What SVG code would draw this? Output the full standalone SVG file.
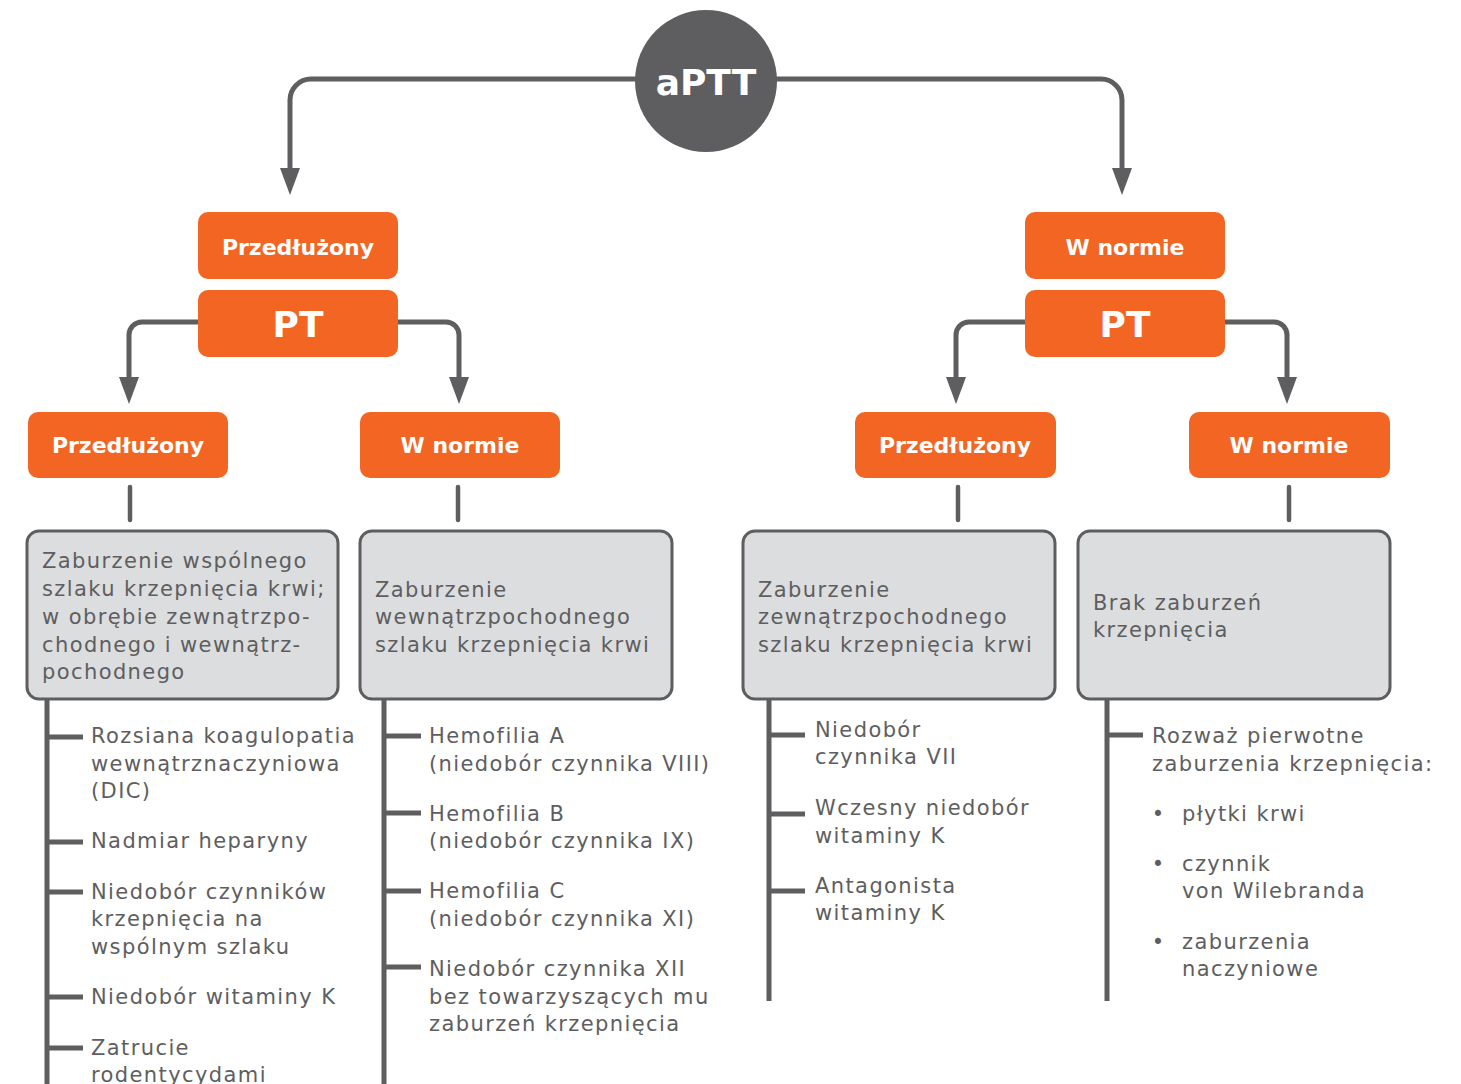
<svg xmlns="http://www.w3.org/2000/svg" width="1461" height="1084" viewBox="0 0 1461 1084">
<defs>
<marker id="arr" viewBox="0 0 27 20" refX="0" refY="10" markerWidth="27" markerHeight="20" markerUnits="userSpaceOnUse" orient="auto">
<path d="M0,0 L27,10 L0,20 z" fill="#5e5e60"/>
</marker>
<style>
.conn{fill:none;stroke:#5e5e60;stroke-width:5}
.stub{fill:none;stroke:#5e5e60;stroke-width:4.5;stroke-linecap:round}
.ob{fill:#f26522}
.ot{font-family:"DejaVu Sans",sans-serif;font-weight:bold;fill:#ffffff;text-anchor:middle;font-size:22px}
.big{font-size:36px}
.gb{fill:#dcdddf;stroke:#5e5e60;stroke-width:3}
.tx{font-family:"DejaVu Sans",sans-serif;font-size:21px;letter-spacing:1.4px;fill:#5e5e60}
</style>
</defs>
<rect width="1461" height="1084" fill="#ffffff"/>

<g id="connectors">
<path class="conn" d="M636 79 H311 A21 21 0 0 0 290 100 V168" marker-end="url(#arr)"/>
<path class="conn" d="M776 79 H1101 A21 21 0 0 1 1122 100 V168" marker-end="url(#arr)"/>
<path class="conn" d="M198 322 H142 A13 13 0 0 0 129 335 V377" marker-end="url(#arr)"/>
<path class="conn" d="M397 322 H446 A13 13 0 0 1 459 335 V377" marker-end="url(#arr)"/>
<path class="conn" d="M1025 322 H969 A13 13 0 0 0 956 335 V377" marker-end="url(#arr)"/>
<path class="conn" d="M1224 322 H1274 A13 13 0 0 1 1287 335 V377" marker-end="url(#arr)"/>
<path class="stub" d="M130 487 V520 M458 487 V520 M958 487 V520 M1289 487 V520"/>
<path class="conn" d="M47 699 V1090 M47 737 H83 M47 842 H83 M47 892 H83 M47 997 H83 M47 1048 H83"/>
<path class="conn" d="M384 699 V1090 M384 736 H421 M384 813 H421 M384 891 H421 M384 967 H421"/>
<path class="conn" d="M769 699 V1001 M769 735 H805 M769 814 H805 M769 891 H805"/>
<path class="conn" d="M1107 699 V1001 M1107 735 H1143"/>
</g>

<g id="aptt">
<circle cx="706" cy="81" r="71" fill="#5e5e60"/>
<text class="ot big" x="706" y="95">aPTT</text>
</g>

<g id="l-przedluzony">
<rect class="ob" x="198" y="212" width="200" height="67" rx="10"/>
<text class="ot" x="298" y="255">Przedłużony</text>
</g>
<g id="l-pt">
<rect class="ob" x="198" y="290" width="200" height="67" rx="10"/>
<text class="ot big" x="298" y="337">PT</text>
</g>
<g id="r-wnormie">
<rect class="ob" x="1025" y="212" width="200" height="67" rx="10"/>
<text class="ot" x="1125" y="255">W normie</text>
</g>
<g id="r-pt">
<rect class="ob" x="1025" y="290" width="200" height="67" rx="10"/>
<text class="ot big" x="1125" y="337">PT</text>
</g>

<g id="ll-przedluzony">
<rect class="ob" x="28" y="412" width="200" height="66" rx="10"/>
<text class="ot" x="128" y="453">Przedłużony</text>
</g>
<g id="lr-wnormie">
<rect class="ob" x="360" y="412" width="200" height="66" rx="10"/>
<text class="ot" x="460" y="453">W normie</text>
</g>
<g id="rl-przedluzony">
<rect class="ob" x="855" y="412" width="201" height="66" rx="10"/>
<text class="ot" x="955" y="453">Przedłużony</text>
</g>
<g id="rr-wnormie">
<rect class="ob" x="1189" y="412" width="201" height="66" rx="10"/>
<text class="ot" x="1289" y="453">W normie</text>
</g>

<g id="box1">
<rect class="gb" x="27" y="531" width="311" height="168" rx="12"/>
<text class="tx" x="42" y="568">Zaburzenie wspólnego</text>
<text class="tx" x="42" y="596">szlaku krzepnięcia krwi;</text>
<text class="tx" x="42" y="624">w obrębie zewnątrzpo-</text>
<text class="tx" x="42" y="652">chodnego i wewnątrz-</text>
<text class="tx" x="42" y="679">pochodnego</text>
</g>
<g id="box2">
<rect class="gb" x="360" y="531" width="312" height="168" rx="12"/>
<text class="tx" x="375" y="597">Zaburzenie</text>
<text class="tx" x="375" y="624">wewnątrzpochodnego</text>
<text class="tx" x="375" y="652">szlaku krzepnięcia krwi</text>
</g>
<g id="box3">
<rect class="gb" x="743" y="531" width="312" height="168" rx="12"/>
<text class="tx" x="758" y="597">Zaburzenie</text>
<text class="tx" x="758" y="624">zewnątrzpochodnego</text>
<text class="tx" x="758" y="652">szlaku krzepnięcia krwi</text>
</g>
<g id="box4">
<rect class="gb" x="1078" y="531" width="312" height="168" rx="12"/>
<text class="tx" x="1093" y="610">Brak zaburzeń</text>
<text class="tx" x="1093" y="637">krzepnięcia</text>
</g>

<g id="list1">
<text class="tx" x="91" y="743">Rozsiana koagulopatia</text>
<text class="tx" x="91" y="771">wewnątrznaczyniowa</text>
<text class="tx" x="91" y="798">(DIC)</text>
<text class="tx" x="91" y="848">Nadmiar heparyny</text>
<text class="tx" x="91" y="899">Niedobór czynników</text>
<text class="tx" x="91" y="926">krzepnięcia na</text>
<text class="tx" x="91" y="954">wspólnym szlaku</text>
<text class="tx" x="91" y="1004">Niedobór witaminy K</text>
<text class="tx" x="91" y="1055">Zatrucie</text>
<text class="tx" x="91" y="1082">rodentycydami</text>
</g>
<g id="list2">
<text class="tx" x="429" y="743">Hemofilia A</text>
<text class="tx" x="429" y="771">(niedobór czynnika VIII)</text>
<text class="tx" x="429" y="821">Hemofilia B</text>
<text class="tx" x="429" y="848">(niedobór czynnika IX)</text>
<text class="tx" x="429" y="898">Hemofilia C</text>
<text class="tx" x="429" y="926">(niedobór czynnika XI)</text>
<text class="tx" x="429" y="976">Niedobór czynnika XII</text>
<text class="tx" x="429" y="1004">bez towarzyszących mu</text>
<text class="tx" x="429" y="1031">zaburzeń krzepnięcia</text>
</g>
<g id="list3">
<text class="tx" x="815" y="737">Niedobór</text>
<text class="tx" x="815" y="764">czynnika VII</text>
<text class="tx" x="815" y="815">Wczesny niedobór</text>
<text class="tx" x="815" y="843">witaminy K</text>
<text class="tx" x="815" y="893">Antagonista</text>
<text class="tx" x="815" y="920">witaminy K</text>
</g>
<g id="list4">
<text class="tx" x="1152" y="743">Rozważ pierwotne</text>
<text class="tx" x="1152" y="771">zaburzenia krzepnięcia:</text>
<text class="tx" x="1158" y="821" text-anchor="middle" style="letter-spacing:0">•</text>
<text class="tx" x="1182" y="821">płytki krwi</text>
<text class="tx" x="1158" y="871" text-anchor="middle" style="letter-spacing:0">•</text>
<text class="tx" x="1182" y="871">czynnik</text>
<text class="tx" x="1182" y="898">von Wilebranda</text>
<text class="tx" x="1158" y="949" text-anchor="middle" style="letter-spacing:0">•</text>
<text class="tx" x="1182" y="949">zaburzenia</text>
<text class="tx" x="1182" y="976">naczyniowe</text>
</g>
</svg>
